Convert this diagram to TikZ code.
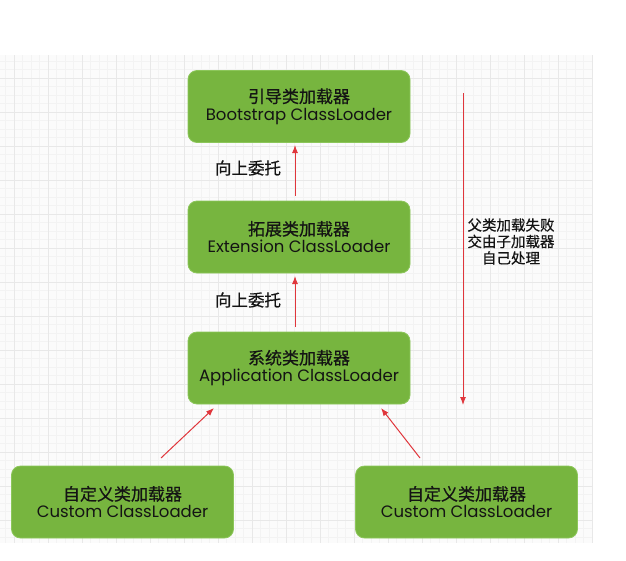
\documentclass[tikz,border=0pt]{standalone}
\usepackage{fontspec}
\usetikzlibrary{arrows.meta}
\setmainfont{Poppins}
\newfontfamily\cjk{Noto Sans CJK SC}[FakeBold=0.6]
\definecolor{boxgreen}{HTML}{77B53F}
\definecolor{boxedge}{HTML}{8CC65A}
\definecolor{arrowred}{HTML}{E0363C}
\definecolor{gridminor}{HTML}{F3F3F3}
\definecolor{gridmajor}{HTML}{E8E8E8}
\definecolor{txt}{HTML}{141414}
\begin{document}
\begin{tikzpicture}[x=1pt,y=-1pt,
  loader/.style={draw=boxedge,line width=0.8pt,fill=boxgreen,rounded corners=9pt,
    minimum width=222pt,minimum height=72pt,align=center,text=txt,
    font=\fontsize{16.5}{17.5}\selectfont,inner sep=0pt},
  redarrow/.style={draw=arrowred,line width=1pt,-{Latex[length=8pt,width=6pt]}},
  lbl/.style={text=txt,font=\cjk\fontsize{14.5}{16.5}\selectfont,align=center,inner sep=0pt}]
\useasboundingbox (0,0) rectangle (626,560);
\fill[white] (0,0) rectangle (626,560);
\fill[white!98.5!black] (0,55) rectangle (593,543);
\begin{scope}
\clip (0,55) rectangle (593,543);
\foreach \i in {0,...,72} {\draw[gridminor,line width=0.5pt] (5.5+8.5*\i,55) -- (5.5+8.5*\i,543);}
\foreach \i in {0,...,58} {\draw[gridminor,line width=0.5pt] (0,61+8.5*\i) -- (593,61+8.5*\i);}
\foreach \i in {0,...,18} {\draw[gridmajor,line width=0.6pt] (14+34*\i,55) -- (14+34*\i,543);}
\foreach \i in {0,...,15} {\draw[gridmajor,line width=0.6pt] (0,78+34*\i) -- (593,78+34*\i);}
\end{scope}

\node[loader] (boot) at (299,106.5) {{\cjk\fontsize{17}{17.5}\selectfont 引导类加载器}\\Bootstrap ClassLoader};
\node[loader] (ext) at (299,237) {{\cjk\fontsize{17}{17.5}\selectfont 拓展类加载器}\\Extension ClassLoader};
\node[loader] (app) at (299,368) {{\cjk\fontsize{17}{17.5}\selectfont 系统类加载器}\\Application ClassLoader};
\node[loader] (c1) at (122.5,502) {{\cjk\fontsize{17}{17.5}\selectfont 自定义类加载器}\\Custom ClassLoader};
\node[loader] (c2) at (466.5,502) {{\cjk\fontsize{17}{17.5}\selectfont 自定义类加载器}\\Custom ClassLoader};

\coordinate (e1) at (295,196);
\coordinate (b1) at (295,145);
\coordinate (a1) at (295,327);
\coordinate (x1) at (295,276);
\draw[redarrow] (e1) -- (b1);
\draw[redarrow] (a1) -- (x1);
\node[lbl,font=\cjk\fontsize{16.5}{17}\selectfont] (up1) at (248,168) {向上委托};
\node[lbl,font=\cjk\fontsize{16.5}{17}\selectfont] (up2) at (248,300) {向上委托};

\coordinate (c1s) at (161,458);
\coordinate (c1e) at (214,408);
\coordinate (c2s) at (420,458);
\coordinate (c2e) at (381,408);
\draw[redarrow] (c1s) -- (c1e);
\draw[redarrow] (c2s) -- (c2e);

\coordinate (ltop) at (463,93);
\coordinate (lbot) at (463,405);
\draw[redarrow] (ltop) -- (lbot);
\node[lbl] (fail) at (511,241.5) {父类加载失败\\交由子加载器\\自己处理};
\end{tikzpicture}
\end{document}
